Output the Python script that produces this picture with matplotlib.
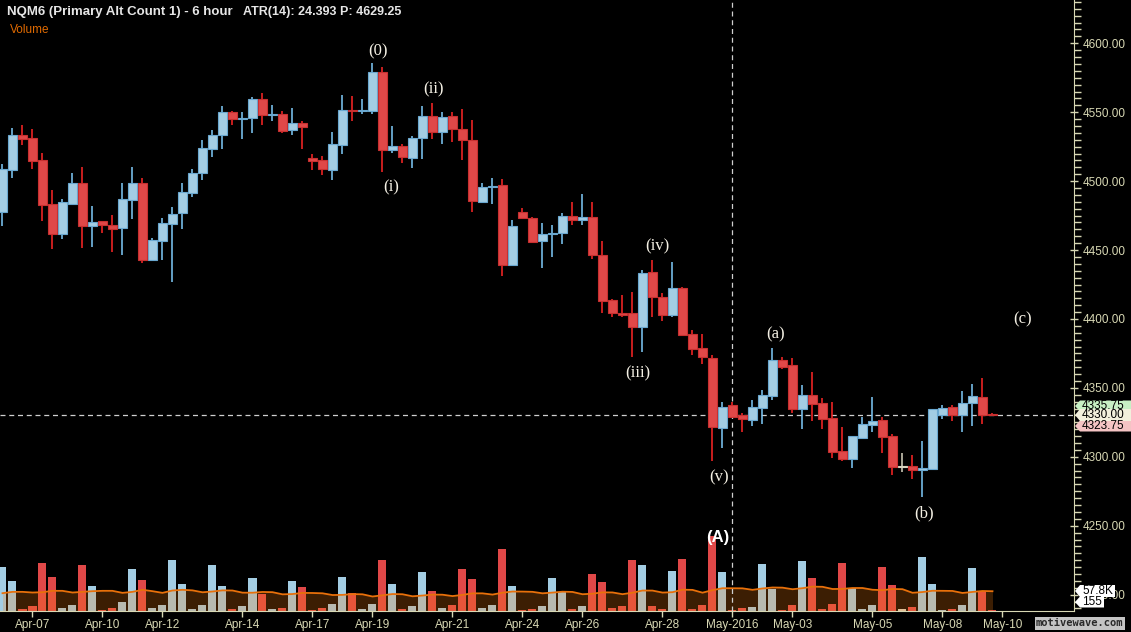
import matplotlib
matplotlib.use("Agg")
import matplotlib.pyplot as plt
from matplotlib.patches import Polygon
from matplotlib.ticker import MultipleLocator, FormatStrFormatter
import numpy as np
import pandas as pd

W, H = 1131, 632

# ---- 6 hour bars, NQM6 (OHLC) ----
opens = [4477.5, 4508, 4533.5, 4531.25, 4515.25, 4483.5, 4461.5, 4483.5, 4498.5, 4467.5,
         4471, 4468.25, 4466, 4486.25, 4498.5, 4442.75, 4456.5, 4469, 4476.75, 4491.5,
         4506, 4523.25, 4533.5, 4550.25, 4545, 4545.75, 4559.5, 4548, 4548.75, 4537.25,
         4542.25, 4516.75, 4515.25, 4508, 4526.25, 4551.75, 4551, 4551, 4579.25, 4522.5,
         4525.5, 4516.75, 4531.25, 4547.25, 4535.5, 4547.25, 4537.75, 4530, 4485, 4495.75,
         4497.25, 4439, 4477.5, 4473.25, 4456.5, 4461.5, 4462.5, 4474.75, 4471.75, 4474,
         4446.5, 4413.75, 4404.25, 4404.25, 4394.25, 4434, 4416, 4403, 4422.5, 4389,
         4379, 4371.75, 4321, 4337.5, 4330.25, 4326.75, 4335.5, 4344, 4370.25, 4366.5,
         4334.75, 4344.75, 4339, 4328.25, 4304.25, 4298.5, 4313.75, 4323, 4326.75, 4315,
         4292.5, 4293.25, 4290.5, 4291.25, 4330.25, 4336.25, 4330.25, 4339, 4343.5, 4330.75]
highs = [4512.5, 4538.5, 4540.75, 4537.75, 4520.5, 4493.5, 4487, 4506, 4510.25, 4482,
         4471.25, 4475.5, 4498.5, 4510.25, 4502.25, 4458.75, 4473.25, 4481.25, 4498.5, 4508.75,
         4530, 4537.25, 4554.5, 4551, 4550.25, 4561, 4564, 4555.25, 4551, 4553,
         4543.5, 4519.75, 4518.25, 4535.5, 4562.5, 4561.75, 4559.5, 4585.75, 4582.75, 4540,
         4527, 4532.75, 4554.5, 4556.75, 4550.25, 4550.25, 4552.5, 4544.5, 4498.5, 4502.25,
         4501.5, 4471.75, 4480.5, 4474, 4469.75, 4468.25, 4476.75, 4485, 4490.75, 4485,
         4456.5, 4414.5, 4417.5, 4419.5, 4435.5, 4442.75, 4418.75, 4441.25, 4423.25, 4392,
         4389, 4373.75, 4339.75, 4339.75, 4331.75, 4341.25, 4348.5, 4379, 4372.5, 4371.75,
         4352, 4361.5, 4342.5, 4339.75, 4321.5, 4315, 4329, 4343.5, 4329, 4316.5,
         4302.75, 4301.25, 4311.5, 4334.75, 4337.5, 4337.5, 4347.75, 4352.75, 4357.25, 4331.75]
lows = [4467.5, 4502.25, 4526.25, 4508.75, 4471, 4450.75, 4458, 4483, 4451.5, 4452.25,
        4462.5, 4448.5, 4446.5, 4472.5, 4440.5, 4442, 4442.75, 4426.75, 4465.25, 4488.5,
        4500.75, 4517.5, 4523.25, 4540.75, 4530.5, 4535, 4540.75, 4543.5, 4535, 4533.5,
        4523.25, 4508, 4504.5, 4500.75, 4519.75, 4543.5, 4548.75, 4548.75, 4506.5, 4520.5,
        4513.25, 4509.5, 4516, 4530.5, 4527, 4528.5, 4515.25, 4477.5, 4484, 4483.5,
        4431.25, 4439, 4473.25, 4455, 4437, 4445, 4454.25, 4468.25, 4468.25, 4443.5,
        4404.25, 4401.5, 4401.5, 4372.5, 4376, 4401.5, 4398.5, 4401.5, 4388.5, 4373.75,
        4367.25, 4297, 4306.5, 4329, 4318, 4322.25, 4323.75, 4341.25, 4363.75, 4331.75,
        4320.25, 4326, 4320.25, 4299.25, 4297, 4292, 4312.75, 4318, 4302.75, 4286.75,
        4289, 4284, 4271, 4290.5, 4327.5, 4326, 4318, 4322.25, 4323.75, 4330]
closes = [4508.75, 4533.5, 4530.5, 4514.75, 4482.75, 4461.5, 4485, 4498.5, 4467.5, 4470.5,
          4468.25, 4465.25, 4487, 4498.5, 4442.75, 4457.25, 4469.75, 4476.25, 4492.25, 4506,
          4524, 4533.5, 4550.25, 4545, 4545.75, 4559.5, 4548, 4548.75, 4536.25, 4542.25,
          4539.25, 4514.75, 4508.75, 4527, 4551.75, 4551, 4551.75, 4579.25, 4522.5, 4525.5,
          4517.5, 4531.25, 4547.25, 4535.5, 4546.5, 4537.75, 4530, 4485.5, 4495.75, 4496.5,
          4439, 4467.5, 4473.25, 4455.75, 4461.5, 4462.5, 4474.75, 4471.75, 4474, 4446.5,
          4413, 4404.25, 4403, 4394.25, 4433.25, 4416, 4403, 4422.5, 4388.5, 4378.25,
          4372.25, 4321.5, 4336.25, 4329, 4327.5, 4336.25, 4344.75, 4370.25, 4365, 4334.75,
          4344.75, 4338.25, 4327.5, 4303.5, 4298.5, 4315, 4323.75, 4326, 4314.25, 4292.5,
          4292.5, 4290.5, 4292, 4334.75, 4335.5, 4330.25, 4339, 4344, 4330.25, 4330]

# volume in thousands of contracts
volume_k = [127, 88, 3, 12, 139, 100, 6, 15, 133, 71,
            2, 6, 24, 121, 91, 6, 15, 148, 77, 3,
            15, 133, 71, 3, 12, 97, 50, 3, 6, 88,
            68, 2, 6, 18, 100, 53, 3, 18, 148, 77,
            3, 12, 115, 59, 6, 15, 121, 94, 6, 15,
            180, 71, 2, 3, 12, 97, 56, 3, 12, 109,
            83, 6, 12, 148, 133, 12, 3, 118, 153, 3,
            15, 221, 115, 2, 6, 9, 136, 62, 2, 15,
            145, 97, 3, 18, 139, 65, 3, 15, 127, 74,
            3, 9, 159, 77, 2, 3, 15, 124, 59, 0.155]
# volume MA(20) for the bars before a full window exists
vol_ma_head = [51, 55, 55, 53, 54, 58, 58, 53, 55, 57, 58, 58, 52, 55, 61, 57, 52, 59, 61]

date_labels = ["Apr-07", "Apr-10", "Apr-12", "Apr-14", "Apr-17", "Apr-19", "Apr-21", "Apr-24",
               "Apr-26", "Apr-28", "May-2016", "May-03", "May-05", "May-08", "May-10"]
date_bars = [3, 10, 16, 24, 31, 37, 45, 52, 58, 66, 73, 79, 87, 94, 100]

# wave labels: (text, bar position, price)
waves = [("(0)", 37.55, 4594.4), ("(i)", 38.85, 4495.7), ("(ii)", 43.1, 4566.8),
         ("(iii)", 63.55, 4360.8), ("(iv)", 65.5, 4452.9), ("(v)", 71.65, 4285.0),
         ("(a)", 77.35, 4388.7), ("(b)", 92.2, 4259.2), ("(c)", 102.05, 4400.0)]
wave_A = ("(A)", 71.5, 4241.4)

cursor_bar = 73
last_price = closes[-1]
ask_price, bid_price = 4335.75, 4323.75
vol_ma_label, vol_last_label = "57.8K", "155"

# ---- colours ----
BG = "black"
UP_FILL, UP_EDGE, UP_WICK = "#a3cde3", "#6aa8d0", "#7fcbfa"
DN_FILL, DN_EDGE, DN_WICK = "#e04848", "#c83030", "#ff2626"
FLAT = "#d8d4c0"
AXIS_COL = "#d8d8b4"
MA_COL = "#e8700a"

plt.rcParams["font.family"] = ["Liberation Sans", "DejaVu Sans"]

o = np.array(opens); h = np.array(highs); l = np.array(lows); c = np.array(closes)
v = np.array(volume_k, dtype=float)
x = np.arange(len(o))

ma = pd.Series(v).rolling(20).mean().to_numpy()
ma[:len(vol_ma_head)] = vol_ma_head

fig = plt.figure(figsize=(W / 100, H / 100), dpi=100, facecolor=BG)


def fx(px):
    return px / W


def fy(py):
    return 1 - py / H


rect = [0, fy(610.5), fx(1074), 610.5 / H]
xlim = (-0.25, 107.15)

# ---- volume pane (behind the price axes) ----
axv = fig.add_axes(rect, facecolor=BG)
axv.set_xlim(*xlim)
axv.set_ylim(0, 610.5 * 2.95)
vcol = [UP_FILL if cc > oo else (DN_FILL if cc < oo else FLAT) for oo, cc in zip(o, c)]
axv.bar(x, v, width=0.8, color=vcol, linewidth=0, zorder=2)
axv.fill_between(x, 0, ma, color="#ff7f10", alpha=0.24, linewidth=0, zorder=3)
axv.plot(x, ma, color=MA_COL, lw=1.3, zorder=4)
axv.axis("off")

# ---- price pane ----
ax = fig.add_axes(rect)
ax.patch.set_alpha(0)
ax.set_xlim(*xlim)
ax.set_ylim(4188.5, 4631.4)

up = c > o
down = c < o
flat = c == o
for mask, wick, fill, edge in [(up, UP_WICK, UP_FILL, UP_EDGE),
                               (down, DN_WICK, DN_FILL, DN_EDGE),
                               (flat, FLAT, FLAT, FLAT)]:
    ax.vlines(x[mask], l[mask], h[mask], color=wick, lw=1.1, zorder=2)
    body_lo = np.minimum(o, c)[mask]
    body_h = np.maximum(np.abs(c - o)[mask], 0.9)
    ax.bar(x[mask], body_h, bottom=body_lo, width=0.82, color=fill,
           edgecolor=edge, linewidth=0.8, zorder=3)

# cursor cross lines
ax.axvline(cursor_bar, color="#cfcfcf", lw=0.9, ls=(0, (4, 3)), zorder=1)
ax.axhline(last_price, color="#cfcfcf", lw=0.9, ls=(0, (4, 3)), zorder=1)

# wave labels
for txt, wx, wy in waves:
    ax.text(wx, wy, txt, color="#f4f0e4", fontsize=12, ha="center", va="center",
            family=["Liberation Serif", "DejaVu Serif"], zorder=6)
ax.text(wave_A[1], wave_A[2], wave_A[0], color="white", fontsize=12, fontweight="bold",
        ha="center", va="center", zorder=6)

# axes styling
for side in ["top", "left"]:
    ax.spines[side].set_visible(False)
ax.spines["right"].set_color(AXIS_COL)
ax.spines["bottom"].set_color(AXIS_COL)
ax.yaxis.tick_right()
ax.yaxis.set_major_locator(MultipleLocator(50))
ax.yaxis.set_minor_locator(MultipleLocator(5))
ax.yaxis.set_major_formatter(FormatStrFormatter("%.2f"))
ax.tick_params(axis="y", which="major", colors=AXIS_COL, length=6, width=1,
               labelsize=8.5, pad=3, direction="inout")
ax.tick_params(axis="y", which="minor", colors=AXIS_COL, length=5, width=1, direction="out")
ax.set_xticks(date_bars)
ax.set_xticklabels(date_labels)
ax.tick_params(axis="x", colors=AXIS_COL, length=4, width=1, labelsize=8.5, pad=2)


# ---- right side tags ----
def tag(yc, x1, hgt, text, fc, tc="black"):
    x0 = 1075
    pts = [(x0, yc), (x0 + 5, yc - hgt / 2), (x1, yc - hgt / 2),
           (x1, yc + hgt / 2), (x0 + 5, yc + hgt / 2)]
    fig.add_artist(Polygon([(fx(px), fy(py)) for px, py in pts], closed=True,
                           transform=fig.transFigure, facecolor=fc, edgecolor="none", zorder=10))
    fig.text(fx(x0 + 7), fy(yc), text, color=tc, fontsize=8.5, ha="left", va="center", zorder=11)


tag(406, 1131, 11, f"{ask_price:.2f}", "#c8f0c4")
tag(426, 1131, 11, f"{bid_price:.2f}", "#f4c4c4")
tag(415, 1131, 12, f"{last_price:.2f}", "#f2f0dc")
tag(591, 1115, 12, vol_ma_label, "white")
tag(602, 1104, 11, vol_last_label, "white")

# ---- header texts ----
fig.text(fx(7), fy(12), "NQM6 (Primary Alt Count 1) - 6 hour", color="#e6e6e6",
         fontsize=9.5, fontweight="bold", ha="left", va="center")
fig.text(fx(243), fy(12), "ATR(14): 24.393 P: 4629.25", color="#e6e6e6",
         fontsize=9, fontweight="bold", ha="left", va="center")
fig.text(fx(10), fy(30), "Volume", color="#e06a00", fontsize=8.5, ha="left", va="center")

fig.text(fx(1079.5), fy(623.5), "motivewave.com", color="#2a2a2a", fontsize=7.5,
         fontweight="bold", family="DejaVu Sans Mono", ha="center", va="center",
         bbox=dict(boxstyle="square,pad=0.12", facecolor="#c4c4c4", edgecolor="none"))

fig.savefig("out.png", dpi=100, facecolor=BG)
